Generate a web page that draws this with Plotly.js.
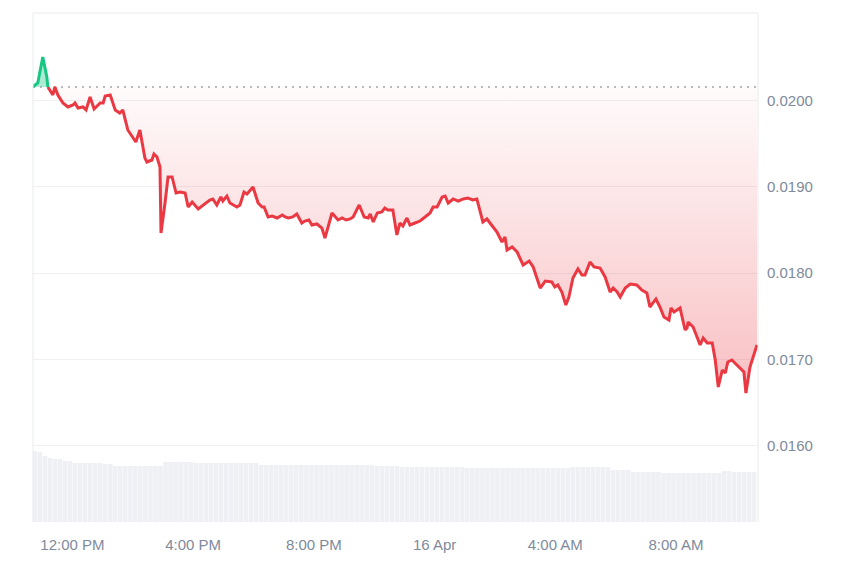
<!DOCTYPE html>
<html>
<head>
<meta charset="utf-8">
<script src="https://cdn.plot.ly/plotly-3.0.1.min.js"></script>
<style>html,body{margin:0;padding:0;background:#fff;}#chart{width:850px;height:567px;}</style>
</head>
<body>
<div id="chart"></div>
<script>
// Minutes after 2024-04-15 10:40 (UTC display)
const priceMinutes = [1,11,21,29,31,41,45,51,61,71,81,85,91,101,107,115,123,135,141,145,155,165,174,180,190,206,214,224,228,238,242,248,254,256,264,270,278,286,294,304,310,318,330,340,347,353,359,367,375,379,387,393,407,413,421,427,439,449,457,461,469,477,487,497,503,509,518,526,536,542,550,556,566,576,582,596,608,616,624,632,638,650,660,668,672,678,686,695,701,707,717,725,731,737,745,751,761,771,781,791,797,805,815,821,827,837,847,857,866,876,884,896,904,914,924,934,940,944,954,964,976,988,996,1010,1020,1033,1039,1045,1053,1061,1067,1075,1085,1093,1099,1109,1117,1129,1139,1149,1155,1163,1169,1179,1189,1202,1212,1222,1228,1240,1248,1256,1266,1270,1276,1288,1298,1302,1304,1314,1328,1334,1342,1352,1358,1364,1372,1378,1383,1391,1401,1411,1415,1419,1427,1441];
const priceValues = [0.020159,0.020205,0.020507,0.020275,0.020159,0.020066,0.020159,0.020066,0.019973,0.019927,0.019950,0.019973,0.019915,0.019927,0.019892,0.020043,0.019904,0.019973,0.019973,0.020054,0.020066,0.019892,0.019857,0.019892,0.019660,0.019521,0.019660,0.019335,0.019289,0.019312,0.019382,0.019347,0.019231,0.018465,0.018813,0.019115,0.019115,0.018929,0.018941,0.018929,0.018767,0.018825,0.018744,0.018790,0.018813,0.018848,0.018860,0.018790,0.018883,0.018836,0.018894,0.018813,0.018767,0.018790,0.018941,0.018918,0.018999,0.018813,0.018767,0.018767,0.018651,0.018662,0.018639,0.018674,0.018651,0.018639,0.018651,0.018686,0.018581,0.018604,0.018616,0.018558,0.018570,0.018523,0.018407,0.018697,0.018616,0.018639,0.018616,0.018628,0.018651,0.018790,0.018651,0.018639,0.018686,0.018593,0.018697,0.018709,0.018755,0.018732,0.018732,0.018442,0.018581,0.018546,0.018639,0.018558,0.018581,0.018604,0.018651,0.018697,0.018767,0.018767,0.018883,0.018894,0.018813,0.018860,0.018836,0.018860,0.018871,0.018848,0.018860,0.018593,0.018628,0.018558,0.018477,0.018361,0.018419,0.018268,0.018303,0.018245,0.018094,0.018140,0.018071,0.017827,0.017908,0.017897,0.017839,0.017862,0.017781,0.017630,0.017723,0.017943,0.018048,0.017978,0.017978,0.018129,0.018071,0.018059,0.017955,0.017781,0.017827,0.017781,0.017723,0.017827,0.017874,0.017862,0.017804,0.017769,0.017607,0.017700,0.017607,0.017491,0.017456,0.017595,0.017549,0.017595,0.017340,0.017363,0.017433,0.017375,0.017166,0.017247,0.017189,0.017189,0.016992,0.016679,0.016876,0.016841,0.016969,0.016992,0.016934,0.016876,0.016853,0.016609,0.016911,0.017166];
const baselinePrice = 0.020159;
// Volume bars every 10 minutes (minutes after 10:40 = 5 + 10*i), values in millions
const volumeValues = [7.1,7.0,6.6,6.4,6.3,6.3,6.1,6.1,5.9,5.9,5.9,5.9,5.9,5.9,5.8,5.8,5.6,5.6,5.6,5.6,5.6,5.6,5.6,5.6,5.6,5.6,6.0,6.0,6.0,6.0,6.0,6.0,5.9,5.9,5.9,5.9,5.9,5.9,5.9,5.9,5.9,5.9,5.9,5.9,5.9,5.7,5.7,5.7,5.7,5.7,5.7,5.7,5.7,5.7,5.7,5.7,5.7,5.7,5.7,5.7,5.7,5.7,5.7,5.7,5.7,5.7,5.7,5.7,5.6,5.6,5.6,5.6,5.6,5.5,5.5,5.5,5.5,5.5,5.5,5.5,5.5,5.5,5.5,5.5,5.5,5.5,5.4,5.4,5.4,5.4,5.4,5.4,5.4,5.4,5.4,5.4,5.4,5.4,5.4,5.4,5.4,5.4,5.4,5.4,5.4,5.4,5.4,5.5,5.5,5.5,5.5,5.5,5.5,5.5,5.5,5.2,5.2,5.2,5.2,5.0,5.0,5.0,5.0,5.0,5.0,4.9,4.9,4.9,4.9,4.9,4.9,4.9,4.9,4.9,4.9,4.9,4.9,5.1,5.1,5.0,5.0,5.0,5.0,5.0];
const yTickValues = [0.0160,0.0170,0.0180,0.0190,0.0200];
const yTickLabels = ['0.0160','0.0170','0.0180','0.0190','0.0200'];
const xTickMinutes = [80,320,560,800,1040,1280];
const xTickLabels = ['12:00 PM','4:00 PM','8:00 PM','16 Apr','4:00 AM','8:00 AM'];

const T0 = Date.UTC(2024,3,15,10,40);
const toDate = m => { const d = new Date(T0 + m*60000).toISOString(); return d.slice(0,19).replace('T',' '); };

// split into above/below baseline with crossing points
const xs = [], ys = [];
for (let i=0;i<priceValues.length;i++){
  if (i>0){
    const a = priceValues[i-1]-baselinePrice, b = priceValues[i]-baselinePrice;
    if (a*b<0){
      const f = a/(a-b);
      xs.push(priceMinutes[i-1] + f*(priceMinutes[i]-priceMinutes[i-1]));
      ys.push(baselinePrice);
    }
  }
  xs.push(priceMinutes[i]); ys.push(priceValues[i]);
}
const xd = xs.map(toDate);
const redY = ys.map(v => v<=baselinePrice ? v : null);
const greenY = ys.map(v => v>=baselinePrice ? v : null);
const redFill = ys.map(v => Math.min(v, baselinePrice));
const greenFill = ys.map(v => Math.max(v, baselinePrice));
const baseArr = ys.map(() => baselinePrice);
const minP = Math.min(...priceValues);

const volX = volumeValues.map((v,i) => toDate(5 + 10*i));

const traces = [
  {x: volX, y: volumeValues, type:'bar', yaxis:'y2', marker:{color:'#eef0f4', line:{width:0}}, hoverinfo:'skip'},
  {x: xd, y: baseArr, mode:'lines', line:{width:0}, hoverinfo:'skip'},
  {x: xd, y: redFill, mode:'lines', line:{width:0}, fill:'tonexty',
   fillgradient:{type:'vertical', start:minP, stop:baselinePrice,
     colorscale:[[0,'rgba(234,57,67,0.32)'],[1,'rgba(234,57,67,0.02)']]}, hoverinfo:'skip'},
  {x: xd, y: baseArr, mode:'lines', line:{width:0}, hoverinfo:'skip'},
  {x: xd, y: greenFill, mode:'lines', line:{width:0}, fill:'tonexty', fillcolor:'rgba(22,199,132,0.35)', hoverinfo:'skip'},
  {x: [toDate(1.5), toDate(1443)], y:[baselinePrice, baselinePrice], mode:'lines', line:{color:'#a0a4aa', width:1.5, dash:'2px,5px'}, hoverinfo:'skip'},
  {x: xd, y: redY, mode:'lines', line:{color:'#ea3943', width:3}, connectgaps:false},
  {x: xd, y: greenY, mode:'lines', line:{color:'#16c784', width:3}, connectgaps:false}
];

const layout = {
  width:850, height:567,
  margin:{l:33, r:92, t:13, b:45},
  paper_bgcolor:'#ffffff', plot_bgcolor:'#ffffff',
  showlegend:false,
  bargap:0.08,
  font:{family:'"Liberation Sans", Arial, sans-serif', size:15, color:'#808a9d'},
  xaxis:{type:'date', range:[toDate(1.5), toDate(1443)], showgrid:false, zeroline:false,
    tickvals: xTickMinutes.map(toDate), ticktext: xTickLabels, ticks:'', showline:false,
    tickfont:{size:15, color:'#808a9d'}, ticklabelstandoff:12},
  yaxis:{range:[0.015113, 0.021017], side:'right', tickvals:yTickValues, ticktext:yTickLabels,
    showgrid:true, gridcolor:'#eef0f3', gridwidth:1, zeroline:false, ticks:'', showline:false,
    tickfont:{size:15, color:'#808a9d'}, ticklabelstandoff:8},
  yaxis2:{overlaying:'y', range:[0, 50.9], visible:false, showgrid:false},
  shapes:[
    {type:'line', xref:'paper', yref:'paper', x0:0, x1:0, y0:0, y1:1, line:{color:'#e8eaee', width:1}},
    {type:'line', xref:'paper', yref:'paper', x0:1, x1:1, y0:0, y1:1, line:{color:'#e8eaee', width:1}},
    {type:'line', xref:'paper', yref:'paper', x0:0, x1:1, y0:1, y1:1, line:{color:'#e8eaee', width:1}}
  ]
};

Plotly.newPlot('chart', traces, layout, {displayModeBar:false, staticPlot:true});
</script>
</body>
</html>
